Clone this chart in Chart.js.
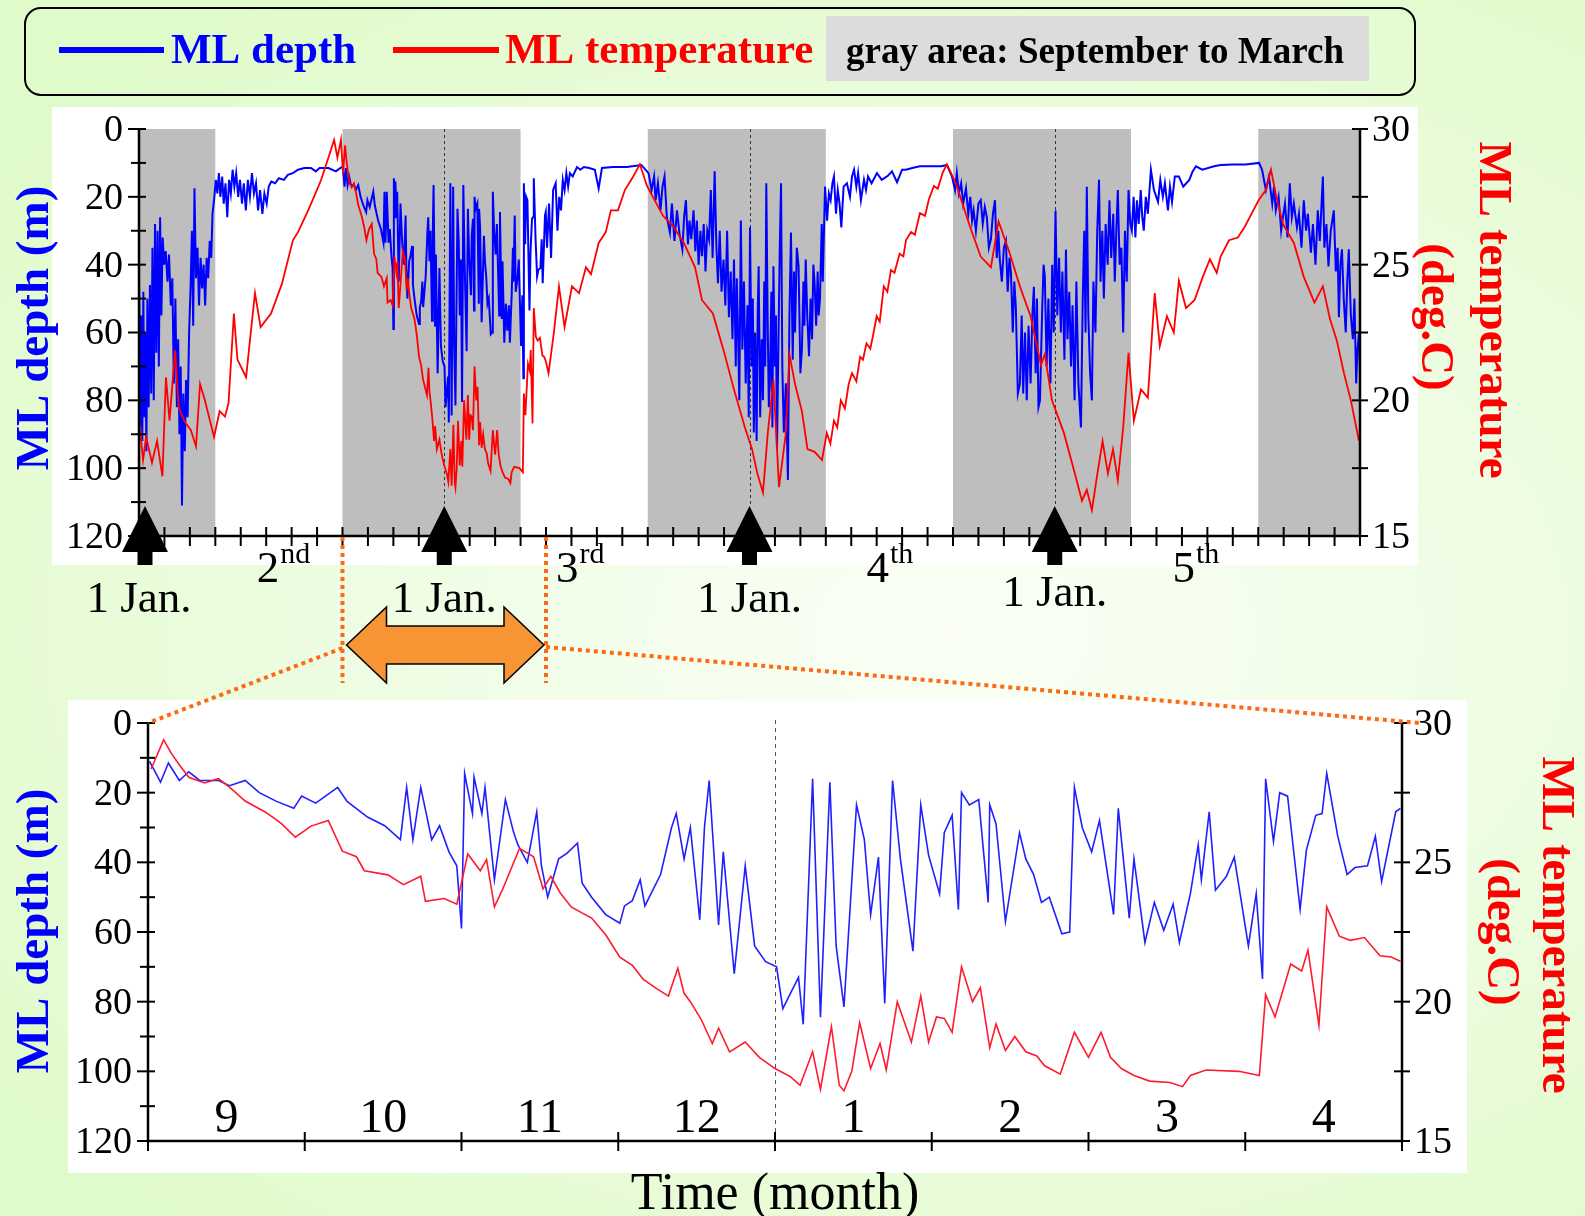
<!DOCTYPE html>
<html>
<head>
<meta charset="utf-8">
<title>Mixed layer depth and temperature</title>
<script src="https://cdn.jsdelivr.net/npm/chart.js@4.4.1/dist/chart.umd.min.js"></script>
<style>
  html, body { margin: 0; padding: 0; }
  body {
    width: 1585px; height: 1216px; overflow: hidden; position: relative;
    background: radial-gradient(ellipse 75% 65% at 60% 52%, #fbfff6 0%, #eefde3 50%, #e0fbca 100%);
  }
  canvas { position: absolute; left: 0; top: 0; }
</style>
</head>
<body>
<canvas id="topChart" width="1585" height="1216"></canvas>
<canvas id="zoomChart" width="1585" height="1216"></canvas>
<script>
// time axis is in months counted from 1 Jan of the first year
const depthTicks = [0, 20, 40, 60, 80, 100, 120];
const tempTicks = [15, 20, 25, 30];
const monthNames = ['9', '10', '11', '12', '1', '2', '3', '4'];
const winterBands = [[0, 3], [8, 15], [20, 27], [32, 39], [44, 48]];
const janFirst = [0, 12, 24, 36];
const seasonNo = ['2', '3', '4', '5'];
const seasonSuffix = ['nd', 'rd', 'th', 'th'];
const seasonMid = [5.66, 17.33, 29.5, 41.53];

// Jan - Aug, first year: [month, depth m]
const depthStart = [[0.00, 42], [0.05, 88], [0.09, 55], [0.13, 92], [0.17, 48], [0.21, 85], [0.25, 60], [0.29, 95],
  [0.33, 50], [0.38, 82], [0.43, 46], [0.48, 78], [0.53, 35], [0.58, 80], [0.63, 28], [0.68, 66], [0.73, 30],
  [0.78, 70], [0.83, 26], [0.88, 55], [0.93, 32], [0.99, 40], [1.05, 36], [1.12, 45], [1.18, 37], [1.25, 52],
  [1.31, 44], [1.37, 75], [1.43, 50], [1.49, 82], [1.54, 62], [1.59, 90], [1.64, 70], [1.69, 111], [1.74, 78],
  [1.80, 95], [1.85, 74], [1.91, 85], [1.97, 60], [2.03, 46], [2.08, 30], [2.13, 58], [2.18, 17.5], [2.24, 44],
  [2.30, 35], [2.36, 52], [2.42, 38], [2.48, 47], [2.54, 40], [2.60, 52], [2.66, 38], [2.72, 44], [2.78, 33],
  [2.84, 38], [2.89, 25], [2.95, 21], [3.02, 15], [3.08, 19], [3.14, 13], [3.20, 20], [3.27, 14], [3.33, 22],
  [3.40, 16], [3.47, 26], [3.54, 15], [3.61, 19], [3.68, 12], [3.75, 17], [3.82, 13], [3.90, 20], [3.97, 15],
  [4.05, 22], [4.12, 16], [4.20, 24], [4.28, 15], [4.36, 20], [4.44, 13], [4.52, 19], [4.60, 16], [4.68, 24],
  [4.76, 18], [4.85, 25], [4.93, 19], [5.02, 22], [5.10, 17], [5.20, 15.5], [5.35, 16], [5.50, 14.5], [5.70, 15],
  [5.85, 13.5], [6.05, 13], [6.25, 12], [6.50, 11.5], [6.76, 11.5], [6.95, 12.5], [7.10, 11.5], [7.45, 11.5], [7.74, 12.5]];
const tempStartT = [0.00, 0.16, 0.28, 0.51, 0.71, 0.92, 1.06, 1.20, 1.42, 1.56, 1.77, 2.04, 2.24, 2.40, 2.59, 2.95, 3.17, 3.38, 3.52, 3.73, 3.87, 4.21, 4.36, 4.56, 4.78, 5.19, 5.62, 6.05, 6.25, 6.60, 6.88, 7.15, 7.45, 7.67, 7.80, 7.94];
const tempStart = [19.3, 17.8, 18.65, 17.7, 18.5, 17.2, 20.85, 19.25, 21.85, 19.75, 19.25, 18.9, 18.3, 20.6, 20.0, 18.65, 19.6, 19.4, 19.9, 23.2, 21.5, 20.85, 22.2, 23.95, 22.7, 23.2, 24.3, 25.9, 26.2, 26.9, 27.5, 28.1, 28.95, 29.6, 28.95, 29.6];

// Sep - Apr season, also shown enlarged in the lower panel
const seasonDepthT = [8.01, 8.08, 8.13, 8.20, 8.26, 8.33, 8.45, 8.52, 8.62, 8.71,
  8.82, 8.93, 8.98, 9.07, 9.21, 9.27, 9.40, 9.51, 9.61, 9.65,
  9.69, 9.74, 9.81, 9.86, 9.92, 9.97, 10.00, 10.02, 10.07, 10.08,
  10.13, 10.15, 10.21, 10.28, 10.33, 10.36, 10.42, 10.48, 10.51, 10.55,
  10.62, 10.67, 10.74, 10.77, 10.83, 10.92, 11.01, 11.04, 11.09, 11.14,
  11.17, 11.27, 11.34, 11.37, 11.42, 11.46, 11.52, 11.55, 11.58, 11.64,
  11.67, 11.74, 11.81, 11.87, 11.94, 12.01, 12.05, 12.10, 12.15, 12.18,
  12.24, 12.29, 12.35, 12.39, 12.44, 12.52, 12.57, 12.61, 12.66, 12.70,
  12.75, 12.80, 12.88, 12.93, 12.98, 13.05, 13.08, 13.13, 13.17, 13.19,
  13.24, 13.30, 13.36, 13.37, 13.41, 13.47, 13.56, 13.60, 13.65, 13.70,
  13.75, 13.83, 13.88, 13.91, 13.96, 14.02, 14.07, 14.10, 14.16, 14.19,
  14.26, 14.29, 14.36, 14.42, 14.48, 14.54, 14.58, 14.65, 14.70, 14.72,
  14.77, 14.81, 14.88, 14.93, 15.02, 15.07, 15.11, 15.13, 15.18, 15.22,
  15.27, 15.35, 15.39, 15.45, 15.49, 15.52, 15.59, 15.65, 15.70, 15.78,
  15.83, 15.87, 15.96, 15.99];
const seasonDepth = [11, 17, 11.5, 16.5, 14, 16.5, 16.5, 18, 16.5, 20,
  22.5, 24.5, 21, 23, 18.5, 22.5, 27, 29.5, 33.5, 18.5,
  33.5, 18.5, 33.5, 29.5, 37, 41, 59, 14.5, 26, 15.5,
  26, 18.5, 45, 22, 31, 35, 40, 25.5, 41, 50,
  39, 37.5, 34.5, 46, 50, 55, 57.5, 52.5, 51, 45,
  52.5, 43.5, 30, 26, 39, 30, 56.5, 30, 16.5, 58,
  37, 72, 41, 64, 68.5, 70, 82, 77.5, 73, 86.5,
  16, 84.5, 17, 64, 81.5, 23.5, 33.5, 55, 38.5, 80.5,
  16.5, 39, 65.5, 23.5, 38, 49, 31.5, 26.5, 53.5, 20,
  23.5, 22, 51.5, 23.5, 29, 57, 31.5, 39, 43.5, 51.5,
  50, 60.5, 60, 18.5, 30, 37, 28, 37, 55, 24.5,
  56, 39, 63, 51.5, 59.5, 52, 63, 49, 35, 45,
  25.5, 48, 44, 38.5, 64, 49, 73.5, 16, 34, 20,
  21, 53.5, 36.5, 26.5, 26, 14.5, 32.5, 43.5, 41.5, 41,
  32.5, 45.5, 25.5, 24.5];
const seasonTempT = [8.02, 8.10, 8.15, 8.20, 8.26, 8.36, 8.45, 8.52, 8.62, 8.75,
  8.85, 8.94, 9.04, 9.15, 9.24, 9.33, 9.38, 9.53, 9.63, 9.74,
  9.77, 9.89, 9.97, 10.04, 10.12, 10.16, 10.21, 10.26, 10.37, 10.46,
  10.52, 10.57, 10.63, 10.70, 10.78, 10.83, 10.92, 11.01, 11.09, 11.16,
  11.25, 11.32, 11.38, 11.42, 11.46, 11.53, 11.60, 11.64, 11.71, 11.81,
  11.90, 12.00, 12.10, 12.16, 12.24, 12.29, 12.36, 12.41, 12.44, 12.49,
  12.54, 12.61, 12.67, 12.71, 12.78, 12.87, 12.93, 12.98, 13.03, 13.08,
  13.13, 13.19, 13.26, 13.31, 13.37, 13.41, 13.47, 13.53, 13.60, 13.67,
  13.72, 13.82, 13.91, 14.00, 14.08, 14.14, 14.21, 14.29, 14.39, 14.52,
  14.60, 14.65, 14.75, 14.96, 15.09, 15.13, 15.19, 15.29, 15.36, 15.40,
  15.47, 15.52, 15.60, 15.67, 15.76, 15.86, 15.93, 15.99];
const seasonTemp = [28.35, 29.4, 28.9, 28.5, 28.05, 27.85, 28.0, 27.7, 27.2, 26.8,
  26.4, 25.9, 26.3, 26.5, 25.4, 25.2, 24.7, 24.55, 24.2, 24.5,
  23.6, 23.7, 23.5, 25.3, 24.7, 25.1, 23.4, 24.0, 25.5, 25.2,
  24.05, 24.5, 23.9, 23.4, 23.15, 23.0, 22.4, 21.6, 21.3, 20.8,
  20.45, 20.2, 21.2, 20.3, 20.0, 19.35, 18.5, 19.05, 18.2, 18.55,
  18.0, 17.6, 17.3, 17.0, 18.2, 16.85, 19.1, 17.0, 16.8, 17.5,
  19.25, 17.6, 18.5, 17.55, 20.0, 18.55, 20.2, 18.55, 19.45, 19.4,
  18.9, 21.25, 20.0, 20.5, 18.35, 19.2, 18.25, 18.75, 18.2, 18.05,
  17.7, 17.4, 18.9, 18.0, 18.9, 18.0, 17.6, 17.35, 17.15, 17.1,
  16.95, 17.35, 17.55, 17.5, 17.35, 20.25, 19.45, 21.35, 21.1, 21.85,
  19.15, 23.4, 22.35, 22.2, 22.3, 21.65, 21.6, 21.45];

// May of the second year to the end of the record: [month, depth m]
const depthLater = [[16.04, 35], [16.12, 22], [16.20, 38], [16.28, 18], [16.38, 16], [16.45, 30], [16.52, 20],
  [16.59, 24], [16.66, 15], [16.73, 18], [16.80, 13], [16.87, 17], [16.94, 13], [17.05, 14], [17.22, 11.2],
  [17.35, 12], [17.49, 11.2], [17.70, 11.5], [17.92, 12], [18.07, 17.5], [18.20, 11.5], [18.63, 11.2],
  [19.18, 11.2], [19.75, 10.6],
  [20.03, 13], [20.15, 18], [20.25, 14], [20.31, 21], [20.40, 16], [20.50, 24], [20.58, 17], [20.66, 14],
  [20.75, 26], [20.87, 30.5], [20.95, 22], [21.05, 33], [21.15, 24], [21.25, 31], [21.36, 35.5], [21.43, 26],
  [21.50, 21], [21.58, 34], [21.64, 27], [21.71, 32.5], [21.80, 24], [21.87, 36], [21.93, 27], [22.00, 40],
  [22.07, 30], [22.13, 37.5], [22.20, 28], [22.27, 42], [22.34, 30], [22.41, 32.5], [22.48, 18], [22.55, 38],
  [22.63, 12.5], [22.70, 35], [22.76, 45.5], [22.83, 30], [22.90, 48], [22.98, 38.5], [23.05, 52], [23.12, 30],
  [23.19, 55.5], [23.26, 42], [23.33, 62], [23.39, 38.5], [23.46, 70], [23.50, 44], [23.55, 60], [23.60, 80],
  [23.66, 27], [23.72, 65], [23.78, 45], [23.85, 75], [23.92, 52], [23.97, 85], [24.02, 29], [24.08, 70],
  [24.13, 50], [24.17, 89.5], [24.22, 60], [24.28, 92], [24.32, 55], [24.36, 40.5], [24.42, 85], [24.48, 62],
  [24.53, 80], [24.58, 45], [24.62, 70], [24.66, 16], [24.72, 60], [24.76, 82], [24.80, 75], [24.86, 48],
  [24.90, 88], [24.94, 40.5], [25.00, 70], [25.04, 55], [25.08, 94.5], [25.14, 62], [25.19, 35], [25.24, 16],
  [25.29, 70], [25.35, 89.5], [25.43, 75], [25.51, 103.5], [25.57, 55], [25.63, 30.5], [25.70, 68], [25.75, 42],
  [25.79, 60], [25.86, 35], [25.93, 40.5], [26.00, 72], [26.06, 65], [26.12, 45], [26.16, 58], [26.21, 38.5],
  [26.27, 55], [26.34, 67], [26.40, 50], [26.46, 62], [26.51, 40], [26.56, 45.5], [26.62, 58], [26.68, 42],
  [26.72, 55], [26.77, 50], [26.84, 28], [26.88, 45], [26.91, 35.5], [26.97, 17], [27.05, 27], [27.12, 19],
  [27.19, 21], [27.26, 16], [27.32, 14], [27.40, 25], [27.47, 18], [27.54, 22], [27.61, 29], [27.70, 17],
  [27.83, 16], [27.95, 20], [28.03, 14], [28.11, 12], [28.20, 17], [28.27, 13], [28.38, 21], [28.50, 15],
  [28.58, 18], [28.66, 14], [28.80, 16], [29.01, 13], [29.20, 15], [29.44, 13.8], [29.60, 12.5], [29.80, 15.7],
  [30.00, 12], [30.15, 12], [30.40, 11.5], [30.70, 11], [31.10, 11], [31.54, 11], [31.76, 10.6],
  [31.96, 14], [32.08, 18], [32.15, 13], [32.23, 19], [32.32, 16], [32.40, 22], [32.51, 17.5], [32.60, 25],
  [32.68, 20], [32.75, 27], [32.81, 24], [32.90, 30], [33.00, 22], [33.09, 21], [33.17, 28], [33.25, 23],
  [33.33, 26], [33.41, 35], [33.49, 32.5], [33.57, 25], [33.65, 21], [33.72, 38], [33.78, 30], [33.84, 38.5],
  [33.92, 45], [34.00, 35], [34.08, 33], [34.15, 48], [34.22, 38], [34.28, 42.5], [34.35, 60], [34.41, 45],
  [34.47, 52.5], [34.55, 78], [34.63, 75], [34.70, 55], [34.76, 78], [34.83, 60], [34.90, 80], [34.97, 58],
  [35.05, 75], [35.12, 55], [35.18, 46.5], [35.25, 72], [35.30, 50], [35.36, 82], [35.42, 80], [35.50, 55],
  [35.56, 40], [35.61, 43.5], [35.68, 70], [35.75, 50], [35.83, 75], [35.90, 40], [35.96, 60], [36.03, 24],
  [36.10, 55], [36.17, 38], [36.24, 60], [36.30, 42], [36.38, 68], [36.44, 35.5], [36.50, 62], [36.57, 48],
  [36.64, 70], [36.70, 52], [36.78, 80], [36.85, 45], [36.93, 75], [37.03, 88], [37.10, 50], [37.16, 30],
  [37.21, 60], [37.26, 17], [37.32, 55], [37.39, 72], [37.46, 80], [37.52, 45], [37.60, 60], [37.67, 30],
  [37.74, 15], [37.80, 45], [37.87, 30], [37.93, 50], [38.00, 28], [38.08, 40], [38.15, 21], [38.22, 38],
  [38.30, 25], [38.36, 45], [38.42, 30], [38.48, 18], [38.55, 40], [38.62, 35], [38.69, 60], [38.76, 30],
  [38.83, 45], [38.90, 18], [38.97, 28], [39.03, 30], [39.10, 20], [39.17, 32], [39.23, 21], [39.30, 28],
  [39.38, 18], [39.44, 26], [39.50, 30], [39.58, 20], [39.66, 25], [39.78, 12], [39.90, 18], [40.06, 21.5],
  [40.15, 15], [40.25, 20], [40.33, 16], [40.45, 24], [40.53, 17], [40.61, 21.5], [40.72, 14], [40.88, 14],
  [41.05, 17], [41.29, 15], [41.42, 12.5], [41.55, 11], [41.80, 12], [42.26, 11], [42.53, 10.6], [43.00, 10.5],
  [43.50, 10.5], [44.03, 10],
  [44.15, 12], [44.30, 18], [44.42, 14], [44.55, 22], [44.62, 17], [44.69, 24], [44.80, 20], [44.90, 30],
  [44.97, 26], [45.05, 22], [45.15, 32], [45.24, 16], [45.32, 26], [45.40, 22], [45.52, 29], [45.60, 25],
  [45.70, 35], [45.79, 21], [45.88, 30], [45.95, 25], [46.07, 36.5], [46.15, 28], [46.25, 40], [46.34, 24],
  [46.42, 33], [46.54, 14], [46.60, 35], [46.68, 28], [46.76, 40.5], [46.85, 30], [46.97, 24], [47.05, 42],
  [47.12, 35], [47.17, 55.5], [47.23, 40], [47.29, 35.5], [47.36, 50], [47.44, 60], [47.50, 45], [47.56, 35.5],
  [47.64, 55], [47.72, 62], [47.78, 50], [47.85, 75], [47.90, 65], [47.96, 60], [48.00, 72]];
// [month, temperature deg.C]
const tempLater = [[16.10, 21.0], [16.31, 22.5], [16.51, 24.2], [16.73, 22.7], [17.02, 24.2], [17.30, 23.95],
  [17.57, 24.9], [17.77, 24.65], [18.07, 25.8], [18.35, 26.2], [18.55, 27.0], [18.83, 27.0], [19.10, 27.75],
  [19.40, 28.2], [19.69, 28.7], [19.97, 27.9], [20.60, 26.8], [21.01, 26.4], [21.42, 25.8], [21.86, 24.9],
  [22.13, 23.7], [22.56, 23.2], [22.98, 21.85], [23.39, 20.4], [23.82, 19.0], [24.10, 18.2], [24.31, 17.3],
  [24.53, 16.6], [24.72, 18.8], [24.94, 20.75], [25.16, 16.8], [25.43, 18.8], [25.57, 21.7], [25.79, 20.6],
  [26.06, 19.6], [26.28, 18.2], [26.56, 18.1], [26.85, 17.8], [27.04, 18.8], [27.18, 18.4], [27.32, 19.25],
  [27.45, 19.0], [27.59, 20.0], [27.75, 19.7], [27.90, 20.6], [28.03, 21.0], [28.20, 20.7], [28.35, 21.6],
  [28.46, 21.5], [28.60, 22.1], [28.75, 21.9], [28.88, 22.5], [29.00, 23.1], [29.12, 22.9], [29.28, 24.2],
  [29.42, 24.0], [29.56, 24.8], [29.70, 24.7], [29.90, 25.4], [30.05, 25.3], [30.15, 25.9], [30.35, 26.2],
  [30.50, 26.1], [30.70, 26.9], [30.90, 26.8], [31.05, 27.4], [31.25, 27.9], [31.40, 27.8], [31.60, 28.4],
  [31.76, 28.7], [32.11, 28.0], [32.67, 26.4], [33.09, 25.3], [33.49, 24.9], [33.79, 26.6], [34.20, 25.5],
  [34.63, 24.2], [35.05, 23.1], [35.46, 21.3], [35.61, 21.7], [35.89, 20.0], [36.36, 18.8], [36.79, 17.3],
  [37.07, 16.3], [37.26, 16.7], [37.46, 15.95], [37.66, 17.2], [37.88, 18.5], [38.09, 17.3], [38.29, 18.2],
  [38.48, 17.05], [38.69, 19.0], [38.90, 21.75], [39.11, 19.25], [39.39, 20.4], [39.66, 20.1], [39.93, 23.95],
  [40.13, 22.0], [40.41, 23.1], [40.68, 22.5], [40.88, 24.4], [41.16, 23.4], [41.50, 23.7], [41.82, 24.55],
  [42.10, 25.2], [42.37, 24.7], [42.52, 25.3], [42.85, 25.9], [43.20, 26.0], [43.47, 26.4], [43.75, 26.9],
  [44.03, 27.4], [44.30, 27.75], [44.50, 28.5], [44.69, 27.6], [44.97, 26.5], [45.40, 25.8], [45.79, 24.55],
  [46.21, 23.6], [46.54, 24.2], [46.82, 23.0], [47.09, 22.2], [47.37, 21.0], [47.64, 20.0], [47.96, 18.5]];

const SERIF = '"Liberation Serif", "Times New Roman", serif';
const BLUE = '#0000ff';
const RED = '#ff0000';

function pts(ts, vs) {
  return ts.map((t, i) => ({ x: t, y: vs[i] }));
}

function pairs(list) {
  return list.map(([t, v]) => ({ x: t, y: v }));
}

function seg(ctx, x1, y1, x2, y2) {
  ctx.beginPath();
  ctx.moveTo(x1, y1);
  ctx.lineTo(x2, y2);
  ctx.stroke();
}

function rotText(ctx, s, x, y, angle, font, color) {
  ctx.save();
  ctx.translate(x, y);
  ctx.rotate(angle);
  ctx.font = font;
  ctx.fillStyle = color;
  ctx.textAlign = 'center';
  ctx.textBaseline = 'middle';
  ctx.fillText(s, 0, 0);
  ctx.restore();
}

// axis lines, crossing ticks and tick labels shared by both panels
function drawFrame(chart) {
  const { ctx, chartArea: a, scales: { x, y, y1 } } = chart;
  ctx.save();
  ctx.strokeStyle = '#000';
  ctx.lineWidth = 2.5;
  ctx.beginPath();
  ctx.moveTo(a.left, a.top);
  ctx.lineTo(a.left, a.bottom);
  ctx.lineTo(a.right, a.bottom);
  ctx.lineTo(a.right, a.top);
  ctx.stroke();
  ctx.lineWidth = 2;
  for (let d = y.min; d <= y.max; d += 10) {
    const py = y.getPixelForValue(d);
    seg(ctx, a.left - (d % 20 === 0 ? 11 : 8), py, a.left + 7, py);
  }
  for (let t = y1.min; t <= y1.max; t += 2.5) {
    const py = y1.getPixelForValue(t);
    seg(ctx, a.right - 8, py, a.right + 8, py);
  }
  for (let m = x.min; m <= x.max; m++) {
    const px = x.getPixelForValue(m);
    seg(ctx, px, a.bottom - 9, px, a.bottom + 10);
  }
  ctx.font = `38px ${SERIF}`;
  ctx.fillStyle = '#000';
  ctx.textBaseline = 'middle';
  ctx.textAlign = 'right';
  depthTicks.forEach(d => ctx.fillText(String(d), a.left - 16, y.getPixelForValue(d) + 2));
  ctx.textAlign = 'left';
  tempTicks.forEach(t => ctx.fillText(String(t), a.right + 12, y1.getPixelForValue(t) + 2));
  ctx.restore();
}

function drawTitles(ctx, depthX, depthY, tempX, tempY, degX, degY) {
  const bold = `bold 47px ${SERIF}`;
  rotText(ctx, 'ML depth (m)', depthX, depthY, -Math.PI / 2, bold, BLUE);
  rotText(ctx, 'ML temperature', tempX, tempY, Math.PI / 2, bold, RED);
  rotText(ctx, '(deg.C)', degX, degY, Math.PI / 2, bold, RED);
}

const topDecor = {
  id: 'topDecor',
  beforeDatasetsDraw(chart) {
    const { ctx, chartArea: a, scales: { x } } = chart;
    ctx.save();
    ctx.fillStyle = '#ffffff';
    ctx.fillRect(52, 107, 1366, 458);
    // September to March shading
    ctx.fillStyle = '#bebebe';
    winterBands.forEach(([s, e]) => {
      const x0 = x.getPixelForValue(s);
      const x1 = x.getPixelForValue(e);
      ctx.fillRect(x0, a.top, x1 - x0, a.bottom - a.top);
    });
    ctx.strokeStyle = '#333';
    ctx.lineWidth = 1;
    ctx.setLineDash([3, 3]);
    janFirst.slice(1).forEach(t => {
      const px = Math.round(x.getPixelForValue(t)) + 0.5;
      seg(ctx, px, a.top, px, 506);
    });
    ctx.restore();
  },
  afterDatasetsDraw(chart) {
    const { ctx, chartArea: a, scales: { x } } = chart;
    drawFrame(chart);
    ctx.save();
    // arrows marking 1 January
    janFirst.forEach(t => {
      const px = Math.max(x.getPixelForValue(t), a.left + 6);
      ctx.fillStyle = '#000';
      ctx.beginPath();
      ctx.moveTo(px, 506);
      ctx.lineTo(px + 23, 552);
      ctx.lineTo(px + 7.5, 552);
      ctx.lineTo(px + 7.5, 565);
      ctx.lineTo(px - 7.5, 565);
      ctx.lineTo(px - 7.5, 552);
      ctx.lineTo(px - 23, 552);
      ctx.closePath();
      ctx.fill();
      ctx.font = `45px ${SERIF}`;
      ctx.textAlign = 'center';
      ctx.textBaseline = 'alphabetic';
      ctx.fillText('1 Jan.', x.getPixelForValue(t), t === 36 ? 606 : 612);
    });
    // year numbers with ordinal suffix
    ctx.textAlign = 'left';
    seasonNo.forEach((n, i) => {
      const big = `45px ${SERIF}`;
      const small = `30px ${SERIF}`;
      ctx.font = big;
      const w1 = ctx.measureText(n).width;
      ctx.font = small;
      const w2 = ctx.measureText(seasonSuffix[i]).width;
      const left = x.getPixelForValue(seasonMid[i]) - (w1 + w2) / 2;
      ctx.font = big;
      ctx.fillText(n, left, 582);
      ctx.font = small;
      ctx.fillText(seasonSuffix[i], left + w1 + 1, 563);
    });
    ctx.restore();
    drawTitles(ctx, 36, 328, 1492, 310, 1434, 317);
  },
  afterDraw(chart) {
    const { ctx } = chart;
    ctx.save();
    ctx.strokeStyle = '#000';
    ctx.lineWidth = 2;
    ctx.beginPath();
    ctx.roundRect(25, 8, 1390, 87, 16);
    ctx.stroke();
    ctx.fillStyle = BLUE;
    ctx.fillRect(59, 47, 105, 6);
    ctx.fillStyle = RED;
    ctx.fillRect(393, 47, 106, 6);
    ctx.fillStyle = '#dcdcdc';
    ctx.fillRect(826, 16, 543, 65);
    ctx.textAlign = 'left';
    ctx.textBaseline = 'alphabetic';
    ctx.font = `bold 43px ${SERIF}`;
    ctx.fillStyle = BLUE;
    ctx.fillText('ML depth', 171, 63);
    ctx.fillStyle = RED;
    ctx.fillText('ML temperature', 505, 63);
    ctx.font = `bold 37px ${SERIF}`;
    ctx.fillStyle = '#000';
    ctx.fillText('gray area: September to March', 846, 63);
    ctx.restore();
  }
};

let topChart;

const zoomDecor = {
  id: 'zoomDecor',
  beforeDatasetsDraw(chart) {
    const { ctx, chartArea: a, scales: { x } } = chart;
    ctx.save();
    ctx.fillStyle = '#ffffff';
    ctx.fillRect(68, 700, 1399, 473);
    ctx.strokeStyle = '#555';
    ctx.lineWidth = 1;
    ctx.setLineDash([4, 4]);
    const px = Math.round(x.getPixelForValue(12)) + 0.5;
    seg(ctx, px, a.top - 3, px, a.bottom);
    ctx.restore();
  },
  afterDatasetsDraw(chart) {
    const { ctx, chartArea: a, scales: { x } } = chart;
    drawFrame(chart);
    ctx.save();
    ctx.font = `48px ${SERIF}`;
    ctx.fillStyle = '#000';
    ctx.textAlign = 'center';
    ctx.textBaseline = 'alphabetic';
    monthNames.forEach((m, i) => ctx.fillText(m, x.getPixelForValue(x.min + i + 0.5), a.bottom - 9));
    ctx.font = `52px ${SERIF}`;
    ctx.fillText('Time (month)', x.getPixelForValue(12), 1209);
    ctx.restore();
    drawTitles(ctx, 36, 931, 1555, 925, 1500, 932);
  },
  afterDraw(chart) {
    // dotted guides from the enlarged season in the upper panel
    const { ctx, chartArea: a, scales: { x } } = chart;
    const tx = topChart.scales.x;
    const tb = topChart.chartArea.bottom;
    const xa = tx.getPixelForValue(x.min);
    const xb = tx.getPixelForValue(x.max);
    ctx.save();
    ctx.strokeStyle = '#ff6a10';
    ctx.lineWidth = 4;
    ctx.setLineDash([4, 4]);
    seg(ctx, xa, tb + 1, xa, 683);
    seg(ctx, xb, tb + 1, xb, 683);
    seg(ctx, xa, 648, x.getPixelForValue(x.min), a.top);
    seg(ctx, xb, 647, x.getPixelForValue(x.max) + 18, a.top);
    ctx.setLineDash([]);
    const cy = 645, l = xa + 4, r = xb - 2;
    ctx.beginPath();
    ctx.moveTo(l, cy);
    ctx.lineTo(l + 40, cy - 38);
    ctx.lineTo(l + 40, cy - 19);
    ctx.lineTo(r - 40, cy - 19);
    ctx.lineTo(r - 40, cy - 38);
    ctx.lineTo(r, cy);
    ctx.lineTo(r - 40, cy + 38);
    ctx.lineTo(r - 40, cy + 19);
    ctx.lineTo(l + 40, cy + 19);
    ctx.lineTo(l + 40, cy + 38);
    ctx.closePath();
    ctx.fillStyle = '#f79433';
    ctx.fill();
    ctx.strokeStyle = '#000';
    ctx.lineWidth = 1.5;
    ctx.stroke();
    ctx.restore();
  }
};

const baseOptions = (padding, xMin, xMax) => ({
  responsive: false,
  animation: false,
  events: [],
  devicePixelRatio: 1,
  layout: { padding },
  plugins: { legend: { display: false }, tooltip: { enabled: false } },
  elements: { point: { radius: 0 }, line: { tension: 0 } },
  scales: {
    x: { type: 'linear', min: xMin, max: xMax, display: false },
    y: { min: 0, max: 120, reverse: true, display: false },
    y1: { min: 15, max: 30, display: false, position: 'right' }
  }
});

topChart = new Chart(document.getElementById('topChart'), {
  type: 'line',
  data: {
    datasets: [
      {
        label: 'ML depth',
        data: pairs(depthStart).concat(pts(seasonDepthT, seasonDepth), pairs(depthLater)),
        yAxisID: 'y',
        borderColor: BLUE,
        borderWidth: 2,
        order: 1
      },
      {
        label: 'ML temperature',
        data: pts(tempStartT, tempStart).concat(pts(seasonTempT, seasonTemp), pairs(tempLater)),
        yAxisID: 'y1',
        borderColor: RED,
        borderWidth: 1.8,
        order: 0
      }
    ]
  },
  options: baseOptions({ left: 139, top: 129, right: 225, bottom: 680 }, 0, 48),
  plugins: [topDecor]
});

new Chart(document.getElementById('zoomChart'), {
  type: 'line',
  data: {
    datasets: [
      {
        label: 'ML depth',
        data: pts(seasonDepthT, seasonDepth),
        yAxisID: 'y',
        borderColor: '#2020ff',
        borderWidth: 1.6,
        order: 1
      },
      {
        label: 'ML temperature',
        data: pts(seasonTempT, seasonTemp),
        yAxisID: 'y1',
        borderColor: '#ff1a2e',
        borderWidth: 1.6,
        order: 0
      }
    ]
  },
  options: baseOptions({ left: 148, top: 723, right: 183, bottom: 75 }, 8, 16),
  plugins: [zoomDecor]
});
</script>
</body>
</html>
